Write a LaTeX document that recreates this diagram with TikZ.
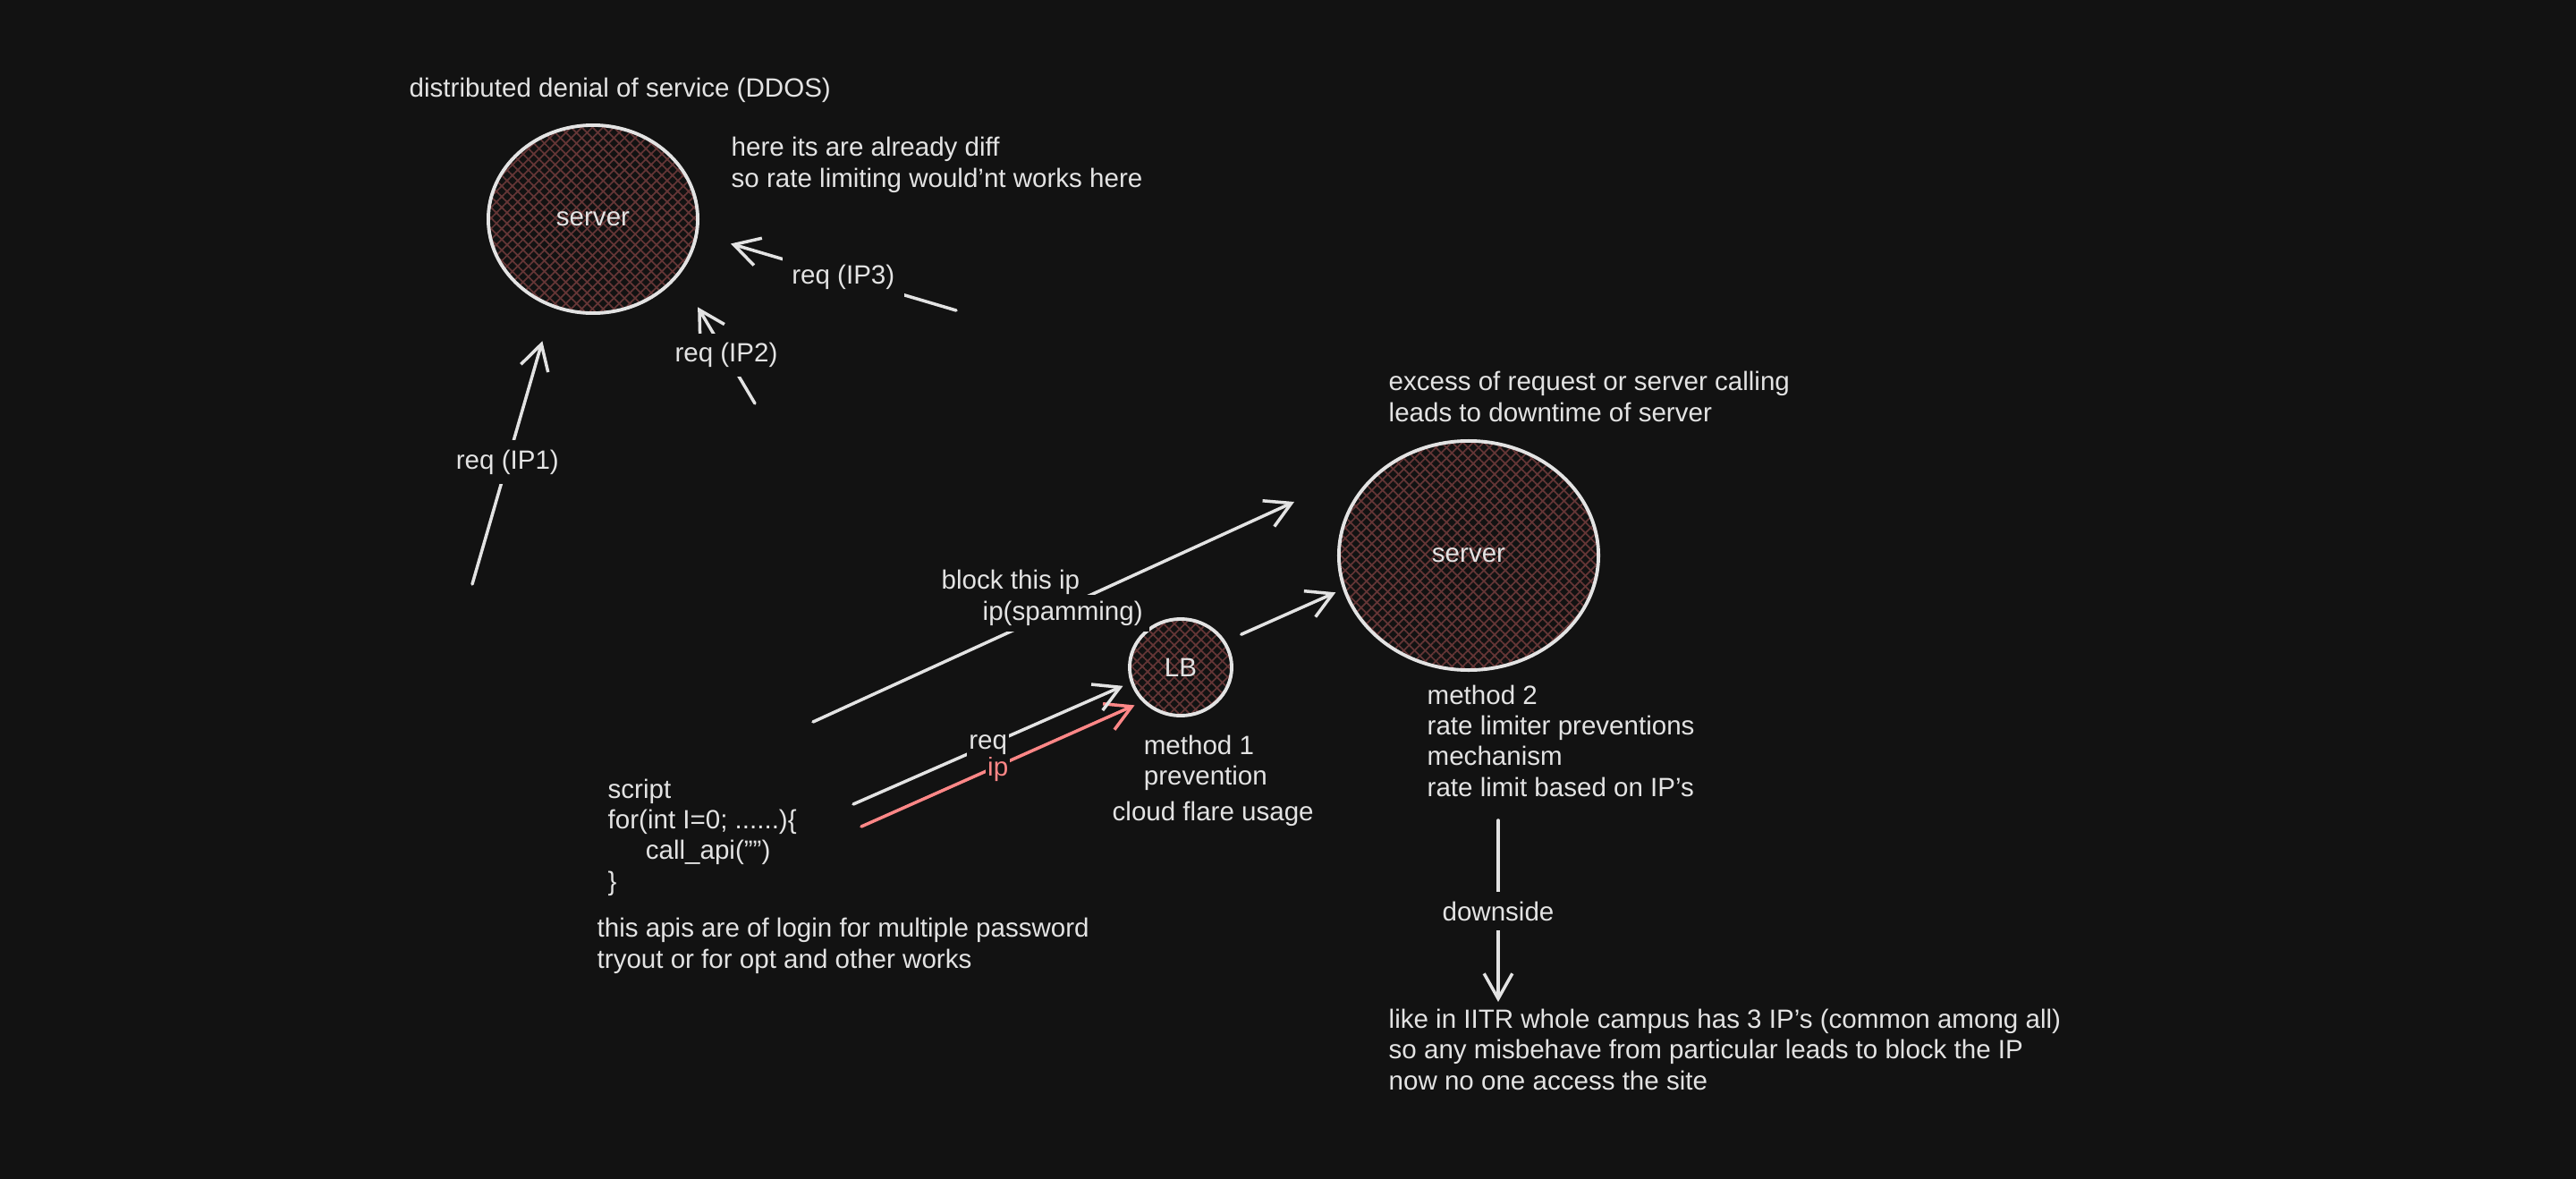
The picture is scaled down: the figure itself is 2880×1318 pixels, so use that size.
\documentclass[tikz,border=0pt]{standalone}
\usepackage{fontspec}
\setmainfont{Liberation Sans}
\usetikzlibrary{shapes.geometric,arrows.meta,patterns.meta}

\begin{document}
\begin{tikzpicture}[x=0.01cm,y=-0.01cm,font=\fontsize{8.4}{9.7}\selectfont]
  % Sketch board on a dark canvas: one unit is one pixel of the board,
  % y runs downwards so the numbers read like screen positions.
  \definecolor{canvas}{HTML}{121212}
  \definecolor{ink}{HTML}{E3E3E3}
  \definecolor{salmon}{HTML}{FF8787}
  \definecolor{hatch}{HTML}{643636}
  \fill[canvas] (0,0) rectangle (2880,1318);

  % notes sit on the baseline of their last line
  \tikzset{note/.style={text=ink,align=left,anchor=base west,inner sep=0pt},
           tag/.style={fill=canvas,text=ink,inner sep=3pt},
           hatched/.style={ellipse,draw=ink,line width=1.1pt,text=ink,
             pattern={Lines[angle=45,distance=2.4pt,line width=.5pt]},pattern color=hatch,
             preaction={pattern={Lines[angle=-45,distance=2.4pt,line width=.5pt]},pattern color=hatch}},
           wire/.style={draw=ink,line width=1pt,line cap=round,
             -{Straight Barb[length=8pt,width=9pt]}}}

  \node[hatched,minimum width=2.34cm,minimum height=2.10cm] (server1) at (663,245) {server};
  \node[hatched,minimum width=2.90cm,minimum height=2.56cm] (server2) at (1642,621) {server};
  \node[hatched,minimum width=1.14cm,minimum height=1.08cm] (lb) at (1320,746) {LB};

  \node[note] (ddos) at (457,108) {distributed denial of service (DDOS)};
  \node[note] (diffnote) at (817,209) {here its are already diff\\so rate limiting would'nt works here};
  \node[note] (excess) at (1552,471) {excess of request or server calling\\leads to downtime of server};
  \node[note] (method2) at (1595,890) {method 2\\rate limiter preventions\\mechanism\\rate limit based on IP's};
  \node[note] (iitr) at (1552,1218) {like in IITR whole campus has 3 IP's (common among all)\\so any misbehave from particular leads to block the IP\\now no one access the site};
  \node[note] (script) at (679,995) {script\\for(int I=0; ......)\{\\\hspace{12pt}call\_api("")\\\}};
  \node[note] (apis) at (667,1082) {this apis are of login for multiple password\\tryout or for opt and other works};
  \node[note] (method1) at (1243,917) {\hspace{10pt}method 1\\\hspace{10pt}prevention\\[1.5pt]cloud flare usage};

  % three sources hitting the first server
  \coordinate (ip1) at (528,653);
  \coordinate (ip2) at (844,451);
  \coordinate (ip3) at (1069,347);
  \draw[wire,shorten >=11.4pt] (ip1) -- node[tag,pos=.44] {req (IP1)} (server1.245);
  \draw[wire,shorten >=12pt] (ip2) -- node[tag,pos=.375] {req (IP2)} (server1.327);
  \draw[wire,shorten >=11.1pt] (ip3) -- node[tag,pos=.436] {req (IP3)} (server1.352);

  % script traffic through the load balancer
  \coordinate (bot) at (954,899);
  \coordinate (spam) at (963,924);
  \draw[wire,draw=salmon,shorten >=2.7pt] (spam) -- node[tag,inner sep=.5pt,pos=.486,yshift=-1pt,text=salmon] {ip} (lb.222);
  \draw[wire,shorten >=2.6pt] (bot) -- node[tag,inner sep=.5pt,pos=.486] {req} (lb.197);
  \draw[wire,shorten <=5.4pt,shorten >=2.5pt] (lb.30) -- (server2.195);

  \coordinate (blk0) at (909,807);
  \coordinate (blk1) at (1447,561);
  \draw[wire] (blk0) -- (blk1);
  \node[tag,anchor=base west,inner sep=2pt] (blkA) at (1045,658) {block this ip};
  \node[tag,anchor=base west,inner sep=2pt] (blkB) at (1091,693) {ip(spamming)};

  \coordinate (dtop) at (1675,917);
  \coordinate (dbot) at (1675,1120);
  \draw[wire] (dtop) -- node[tag] {downside} (dbot);
\end{tikzpicture}
\end{document}
